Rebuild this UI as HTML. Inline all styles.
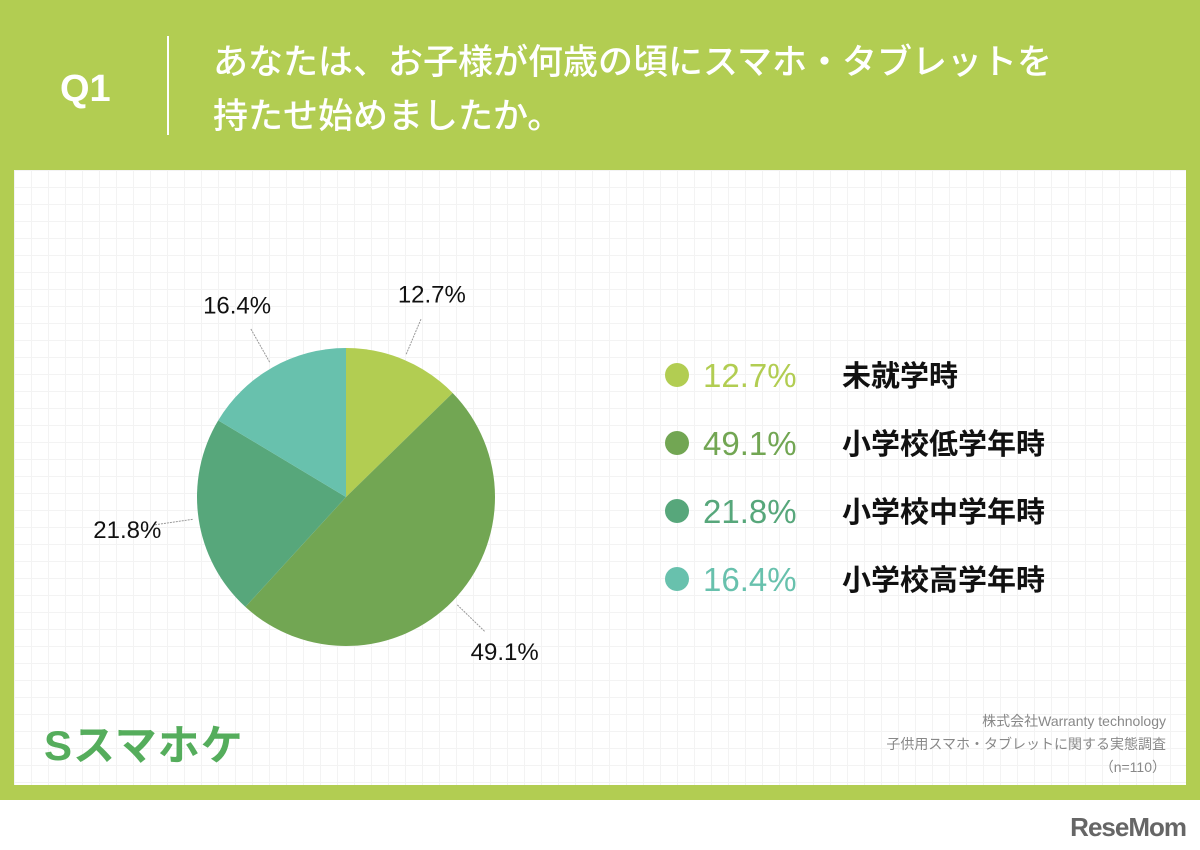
<!DOCTYPE html>
<html><head><meta charset="utf-8">
<style>
body{margin:0;width:1200px;height:850px;overflow:hidden;background:#fff;font-family:"Liberation Sans","Noto Sans CJK JP",sans-serif;}
#bg{position:absolute;left:0;top:0;width:1200px;height:800px;background:#b2cd52;}
#panel{position:absolute;left:14px;top:170px;width:1172px;height:615px;background:#fff;
background-image:linear-gradient(#f3f3f3 1px,transparent 1px),linear-gradient(90deg,#f3f3f3 1px,transparent 1px);background-size:17px 17px;}
.t{position:absolute;color:#fff;font-weight:bold;}
</style></head><body>
<div id="bg"></div>
<div class="t" style="left:60px;top:68px;font-size:38px;">Q1</div>
<div style="position:absolute;left:167px;top:36px;width:2px;height:99px;background:#fff;"></div>
<div class="t" style="left:213px;top:36px;font-size:35px;line-height:54px;font-weight:500;">あなたは、お子様が何歳の頃にスマホ・タブレットを<br>持たせ始めましたか。</div>
<div id="panel"></div>
<svg id="chart" width="1200" height="850" style="position:absolute;left:0;top:0"></svg>
<div style="position:absolute;left:44px;top:712px;font-size:42px;font-weight:bold;color:#55ad5c;letter-spacing:1px;">Sスマホケ</div>
<div style="position:absolute;right:34px;top:710px;text-align:right;font-size:14px;line-height:23px;color:#888;">株式会社Warranty technology<br>子供用スマホ・タブレットに関する実態調査<br>（n=110）</div>
<div style="position:absolute;right:14px;top:812px;font-size:26px;font-weight:bold;color:#666;letter-spacing:-1px;">ReseMom</div>
<script>
const categories=["未就学時","小学校低学年時","小学校中学年時","小学校高学年時"];
const values=[12.7,49.1,21.8,16.4];
const valueLabels=["12.7%","49.1%","21.8%","16.4%"];
const colors=["#b2cd52","#72a653","#57a77b","#68c1ad"];
const svg=document.getElementById('chart');
const NS="http://www.w3.org/2000/svg";
const cx=346,cy=497,r=149;
const total=values.reduce((a,b)=>a+b,0);
function pt(frac,rad){const a=frac*2*Math.PI;return [cx+rad*Math.sin(a),cy-rad*Math.cos(a)];}
let acc=0;
values.forEach((v,i)=>{
  const s=acc/total,e=(acc+v)/total;acc+=v;
  const p0=pt(s,r),p1=pt(e,r);
  const path=document.createElementNS(NS,'path');
  path.setAttribute('d',`M${cx},${cy}L${p0[0]},${p0[1]}A${r},${r} 0 ${e-s>0.5?1:0} 1 ${p1[0]},${p1[1]}Z`);
  path.setAttribute('fill',colors[i]);
  
  
  svg.appendChild(path);
  const m=(s+e)/2;
  const l0=pt(m,r+6),l1=pt(m,r+45);
  const ln=document.createElementNS(NS,'line');
  ln.setAttribute('x1',l0[0]);ln.setAttribute('y1',l0[1]);ln.setAttribute('x2',l1[0]);ln.setAttribute('y2',l1[1]);
  ln.setAttribute('stroke','#999');ln.setAttribute('stroke-width','1');ln.setAttribute('stroke-dasharray','2,1');
  
  
  svg.appendChild(ln);
  const lp=pt(m,r+72);
  const t=document.createElementNS(NS,'text');
  t.setAttribute('x',lp[0]);t.setAttribute('y',lp[1]+9);t.setAttribute('text-anchor','middle');
  t.setAttribute('font-size','24');t.setAttribute('fill','#111');
  t.textContent=valueLabels[i];
  
  
  svg.appendChild(t);
  const y=375+i*68;
  const c=document.createElementNS(NS,'circle');
  c.setAttribute('cx',677);c.setAttribute('cy',y);c.setAttribute('r',12);c.setAttribute('fill',colors[i]);
  
  
  svg.appendChild(c);
  const lv=document.createElementNS(NS,'text');
  lv.setAttribute('x',703);lv.setAttribute('y',y+12);lv.setAttribute('font-size','33');lv.setAttribute('fill',colors[i]);
  lv.textContent=valueLabels[i];
  
  
  svg.appendChild(lv);
  const lc=document.createElementNS(NS,'text');
  lc.setAttribute('x',842);lc.setAttribute('y',y+11);lc.setAttribute('font-size','29');lc.setAttribute('font-weight','bold');lc.setAttribute('fill','#111');
  lc.textContent=categories[i];
  
  
  svg.appendChild(lc);
});
</script>
</body></html>
